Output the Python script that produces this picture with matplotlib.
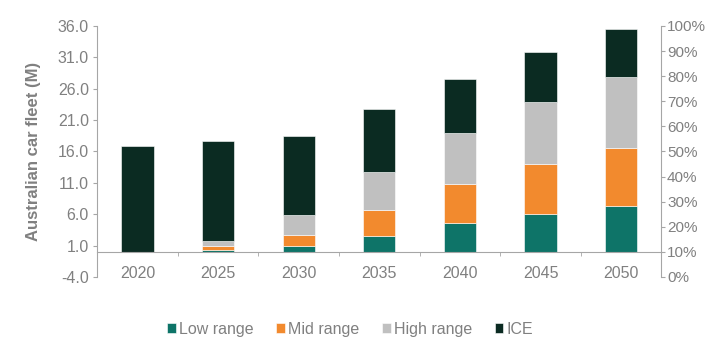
import numpy as np
import matplotlib.pyplot as plt
from matplotlib.ticker import FixedLocator, PercentFormatter

plt.rcParams['font.family'] = ['Liberation Sans', 'DejaVu Sans']

years = ['2020', '2025', '2030', '2035', '2040', '2045', '2050']
low_range = [0.0, 0.25, 0.85, 2.5, 4.6, 6.1, 7.25]
mid_range = [0.0, 0.65, 1.75, 4.1, 6.25, 7.9, 9.25]
high_range = [0.0, 0.8, 3.3, 6.05, 8.05, 9.85, 11.4]
ice = [16.9, 16.0, 12.6, 10.05, 8.65, 7.95, 7.6]

series = [('Low range', low_range, '#0E7468'),
          ('Mid range', mid_range, '#F28A2E'),
          ('High range', high_range, '#C0C0C0'),
          ('ICE', ice, '#0B2B22')]

txt = '#808080'
axis_col = '#A6A6A6'
fs = 11.5

fig = plt.figure(figsize=(7.09, 3.41), dpi=100)
ax = fig.add_axes([0.137, 0.188, 0.796, 0.736])

x = np.arange(len(years))
bottom = np.zeros(len(years))
for name, vals, col in series:
    ax.bar(x, vals, width=0.4, bottom=bottom, color=col, label=name,
           edgecolor='white', linewidth=0.4)
    bottom += np.array(vals)

ax.set_xlim(-0.5, len(years) - 0.5)
ax.set_ylim(-4, 36)
ax.set_yticks(np.arange(-4, 36.1, 5))
ax.set_yticklabels([f'{v:.1f}' for v in np.arange(-4, 36.1, 5)])
ax.set_ylabel('Australian car fleet (M)', color=txt, fontsize=12,
              fontweight='bold', labelpad=12)

ax.spines['top'].set_visible(False)
ax.spines['right'].set_visible(False)
ax.spines['left'].set_color(axis_col)
ax.spines['bottom'].set_color(axis_col)
ax.spines['bottom'].set_position(('data', 0))

ax.set_xticks(x)
ax.set_xticklabels(years)
ax.xaxis.set_minor_locator(FixedLocator(x[:-1] + 0.5))
ax.tick_params(axis='x', which='major', length=0, pad=10, labelsize=fs,
               labelcolor=txt)
ax.tick_params(axis='x', which='minor', length=3, color=axis_col)
ax.tick_params(axis='y', length=3, color=axis_col, labelsize=fs,
               labelcolor=txt, pad=3)

ax2 = ax.twinx()
ax2.set_ylim(0, 1)
ax2.set_yticks(np.arange(0, 1.01, 0.1))
ax2.yaxis.set_major_formatter(PercentFormatter(1.0, decimals=0))
for s in ['top', 'left', 'bottom']:
    ax2.spines[s].set_visible(False)
ax2.spines['right'].set_color(axis_col)
ax2.tick_params(axis='y', length=3, color=axis_col, labelsize=11,
                labelcolor=txt, pad=1)

handles, labels = ax.get_legend_handles_labels()
fig.legend(handles, labels, loc='center', bbox_to_anchor=(0.494, 0.035),
           ncol=4, frameon=False, fontsize=fs, labelcolor=txt,
           handlelength=0.55, handleheight=0.55, handletextpad=0.2,
           columnspacing=1.4)

fig.savefig('out.png', dpi=100)
